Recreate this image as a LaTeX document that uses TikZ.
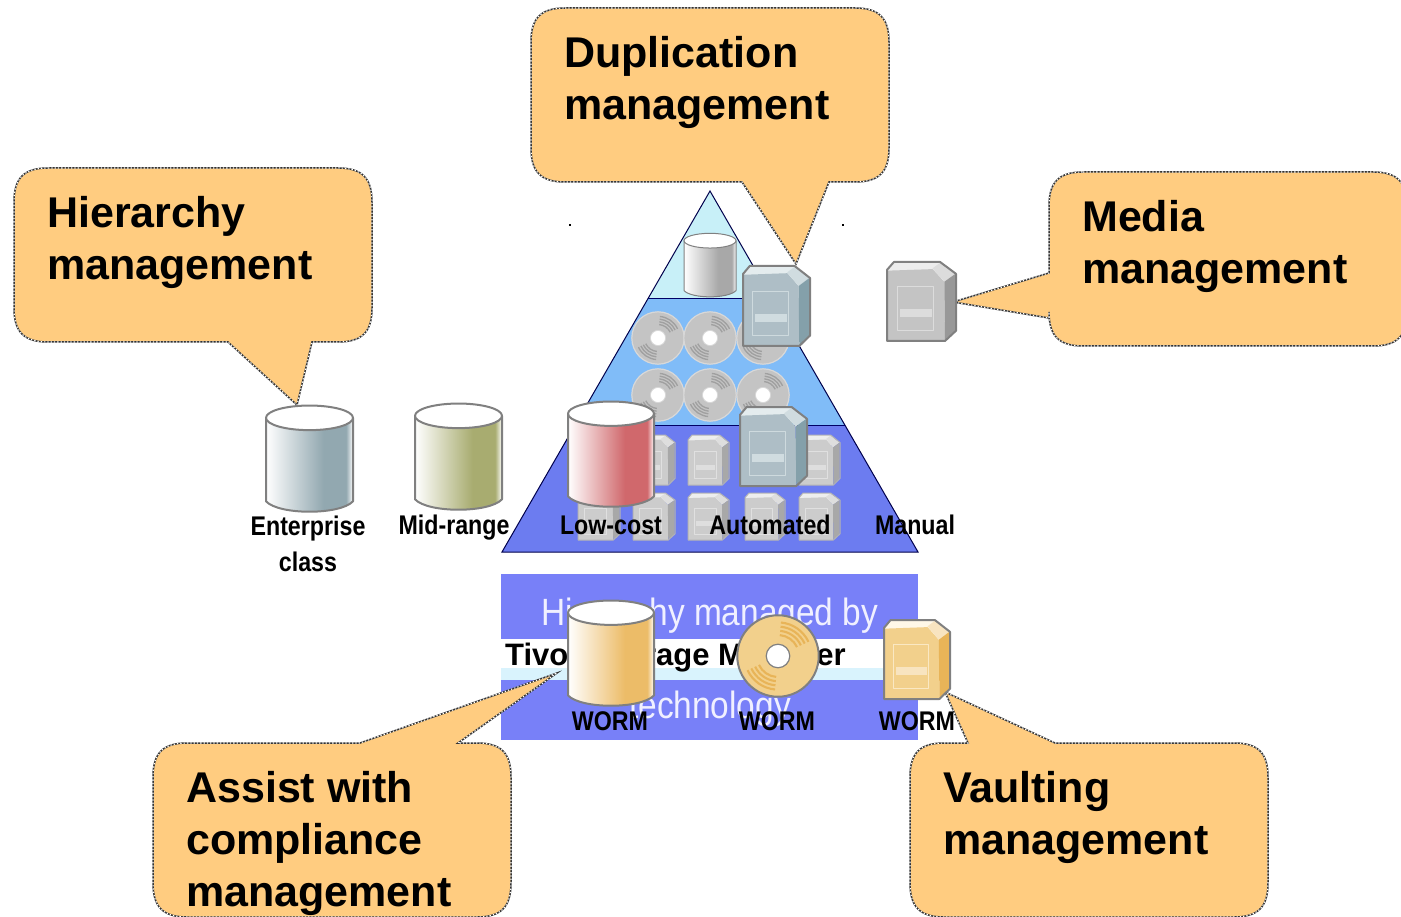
\documentclass[tikz,border=0pt]{standalone}
\usepackage{fontspec}
\setmainfont{Liberation Sans}
\newfontfamily\narrowbold[FakeStretch=0.86]{Liberation Sans}
\newfontfamily\narrowreg[FakeStretch=0.88]{Liberation Sans}
\definecolor{callfill}{HTML}{FFCC80}
\definecolor{pyrA}{HTML}{C8F0F8}
\definecolor{pyrB}{HTML}{80BCF8}
\definecolor{pyrC}{HTML}{6C7CF0}
\definecolor{panel}{HTML}{7880F8}
\definecolor{outl}{HTML}{808080}
\definecolor{bfront}{HTML}{AEBEC6}\definecolor{bside}{HTML}{84A0AA}\definecolor{btop}{HTML}{E4ECEE}\definecolor{bcorner}{HTML}{D0DCE0}\definecolor{bline}{HTML}{808080}
\definecolor{gfront}{HTML}{C4C4C4}\definecolor{gside}{HTML}{989898}\definecolor{gtop}{HTML}{ECECEC}\definecolor{gcorner}{HTML}{DCDCDC}\definecolor{gline}{HTML}{808080}
\definecolor{tfront}{HTML}{F2D08C}\definecolor{tside}{HTML}{E8B458}\definecolor{ttop}{HTML}{FFF8E8}\definecolor{tcorner}{HTML}{F8E4C0}\definecolor{tline}{HTML}{808080}
\definecolor{sfront}{HTML}{CCCCCC}\definecolor{sside}{HTML}{A8A8A8}\definecolor{stop}{HTML}{EEEEEE}\definecolor{scorner}{HTML}{DEDEDE}\definecolor{sline}{HTML}{B4B4B4}
\definecolor{dbody}{HTML}{C4C4C4}\definecolor{dline}{HTML}{D8D8D8}\definecolor{dring}{HTML}{A0A0A0}
\definecolor{midc}{HTML}{A8AC70}
\definecolor{entc}{HTML}{92A8B0}
\definecolor{lowc}{HTML}{D0686C}
\definecolor{tanc}{HTML}{ECBC68}
\definecolor{grayc}{HTML}{A8A8A8}
\pgfdeclarehorizontalshading{cylmid}{100bp}{color(0bp)=(white);color(25bp)=(white);color(58bp)=(midc);color(71bp)=(midc);color(75bp)=(white);color(100bp)=(white)}
\pgfdeclarehorizontalshading{cylent}{100bp}{color(0bp)=(white);color(25bp)=(white);color(58bp)=(entc);color(71bp)=(entc);color(75bp)=(white);color(100bp)=(white)}
\pgfdeclarehorizontalshading{cyllow}{100bp}{color(0bp)=(white);color(25bp)=(white);color(58bp)=(lowc);color(71bp)=(lowc);color(75bp)=(white);color(100bp)=(white)}
\pgfdeclarehorizontalshading{cyltan}{100bp}{color(0bp)=(white);color(25bp)=(white);color(58bp)=(tanc);color(71bp)=(tanc);color(75bp)=(white);color(100bp)=(white)}
\pgfdeclarehorizontalshading{cylgray}{100bp}{color(0bp)=(white);color(25bp)=(white);color(58bp)=(grayc);color(71bp)=(grayc);color(75bp)=(white);color(100bp)=(white)}
\tikzset{
  callout/.style={fill=callfill,draw=black!80,line width=1.5pt,
    postaction={draw=white,line width=1.1pt,dash pattern=on 1.3pt off 2pt}},
  calltext/.style={anchor=north west,inner sep=0pt,align=left,font=\fontsize{43}{52}\selectfont\bfseries},
  lab/.style={anchor=base,inner sep=0pt,font=\fontsize{27}{27}\selectfont\narrowbold\bfseries},
  paneltext/.style={anchor=base,inner sep=0pt,text=white!94!blue,font=\fontsize{38}{38}\selectfont\narrowreg},
  pyredge/.style={draw=black!70!blue,line width=1pt,line join=miter},
  speck/.style={fill=black,inner sep=0pt,minimum size=2pt,draw=none}
}
\newcommand{\CallBox}[8]{%
  \path[callout] ({#1+34},#2) #5 -- ({#3-34},#2)
    .. controls ({#3-10},#2) and (#3,{#2+10}) .. (#3,{#2+34})
    #6 -- (#3,{#4-34})
    .. controls (#3,{#4-10}) and ({#3-10},#4) .. ({#3-34},#4)
    #7 -- ({#1+34},#4)
    .. controls ({#1+10},#4) and (#1,{#4-10}) .. (#1,{#4-34})
    #8 -- (#1,{#2+34})
    .. controls (#1,{#2+10}) and ({#1+10},#2) .. ({#1+34},#2) -- cycle;}
% x y w h palette linewidth
\newcommand{\Cart}[6]{%
  \begin{scope}[shift={(#1,#2)},x=#3pt,y=-#4pt,line join=round]
    \fill[#5top] (0,.1) -- (.1,0) -- (.78,0) -- (.8,.2) -- (0,.2) -- cycle;
    \fill[#5front] (0,.11) -- (.66,.09) -- (.83,.25) -- (.84,1) -- (0,1) -- cycle;
    \fill[#5corner] (.66,.08) -- (.77,.01) -- (.99,.15) -- (.83,.25) -- cycle;
    \fill[#5side] (.83,.25) -- (.99,.15) -- (.99,.87) -- (.84,.99) -- cycle;
    \draw[#5top!60!#5front,line width=.5*#6] (.146,.316) rectangle (.68,.873);
    \fill[#5corner] (.185,.6) rectangle (.65,.70);
    \draw[#5line,line width=#6] (0,.1) -- (.1,0) -- (.77,0) -- (1,.15) -- (1,.87) -- (.84,1) -- (0,1) -- cycle;
  \end{scope}}
% x y w h shading linewidth
\newcommand{\Cyl}[6]{%
  \begin{scope}[shift={(#1,#2)},x=#3pt,y=-#4pt,line join=round]
    \path[shading=#5,draw=outl,line width=#6]
      (0,.12) -- (0,.9) .. controls (.15,1.03) and (.85,1.03) .. (1,.9) -- (1,.12) -- cycle;
    \path[fill=white,draw=outl,line width=#6] (.5,.12) ellipse [x radius=.5,y radius=.115];
  \end{scope}}
% cx cy r body linewidth line ring
\newcommand{\Disk}[7]{%
  \begin{scope}[shift={(#1,#2)},x=#3pt,y=#3pt]
    \draw[#6,line width=#5,fill=#4] (0,0) circle [radius=.97];
    \foreach \rr in {.5,.6,.7,.8} {
      \draw[#7,line width=.05*#3pt] (25:\rr) arc [start angle=25,end angle=85,radius=\rr];
      \draw[#7,line width=.05*#3pt] (205:\rr) arc [start angle=205,end angle=265,radius=\rr];
    }
    \draw[#6,line width=.6*#5,fill=white] (0,0) circle [radius=.28];
  \end{scope}}
\begin{document}
\begin{tikzpicture}[x=1pt,y=-1pt]
\clip (0,0) rectangle (1401,917);
\fill[white] (0,0) rectangle (1401,917);

% lower panel
\fill[panel] (501,574) rectangle (918,740);
\fill[white] (501,639) rectangle (918,668);
\fill[white!85!cyan] (501,668) rectangle (918,680);
\node[paneltext] (t1) at (710,625) {Hierarchy managed by};
\begin{scope}
  \clip (501,639) rectangle (918,680);
  \node[anchor=base west,inner sep=0pt,font=\fontsize{31}{31}\selectfont\bfseries] (t2) at (505,665) {Tivoli Storage Manager};
\end{scope}
\node[paneltext] (t3) at (710,718) {technology};

% pyramid
\coordinate (apex) at (710,191);
\coordinate (bl) at (502,552);
\coordinate (br) at (918,552);
\fill[pyrC] (bl) -- (575,425) -- (845,425) -- (br) -- cycle;
\fill[pyrB] (575,425) -- (648,299) -- (772,299) -- (845,425) -- cycle;
\fill[pyrA] (648,299) -- (apex) -- (772,299) -- cycle;
\draw[pyredge] (apex) -- (bl) -- (br) -- cycle;
\draw[black!60!blue,line width=1pt] (648,299) -- (772,299);
\draw[black!60!blue,line width=1pt] (575,425) -- (845,425);
\node[speck] (s1) at (570,225) {};
\node[speck] (s2) at (843,225) {};

% disks
\Disk{658}{338}{27}{dbody}{1.2pt}{dline}{dring}
\Disk{710}{338}{27}{dbody}{1.2pt}{dline}{dring}
\Disk{763}{338}{27}{dbody}{1.2pt}{dline}{dring}
\Disk{658}{395}{27}{dbody}{1.2pt}{dline}{dring}
\Disk{710}{395}{27}{dbody}{1.2pt}{dline}{dring}
\Disk{763}{395}{27}{dbody}{1.2pt}{dline}{dring}

% small cartridges
\Cart{633}{435}{42}{50}{s}{1pt}
\Cart{688}{435}{41}{50}{s}{1pt}
\Cart{799}{435}{41}{50}{s}{1pt}
\Cart{578}{493}{42}{47}{s}{1pt}
\Cart{633}{493}{42}{47}{s}{1pt}
\Cart{688}{493}{41}{47}{s}{1pt}
\Cart{745}{493}{40}{47}{s}{1pt}
\Cart{799}{493}{41}{47}{s}{1pt}

% callouts
\CallBox{14}{168}{372}{342}{}{}{-- (312,342) -- (297,405) -- (228,342)}{}
\CallBox{531}{8}{889}{182}{}{}{-- (829,182) -- (796,264) -- (742,182)}{}
\CallBox{1049}{172}{1407}{346}{}{}{}{-- (1049,318) -- (953,302) -- (1049,273)}
\CallBox{153}{743}{511}{917}{-- (360,743) -- (557,673) -- (458,743)}{}{}{}
\CallBox{910}{743}{1268}{917}{-- (968,743) -- (945,692) -- (1055,743)}{}{}{}
\node[calltext] (hier) at (47,196) {Hierarchy\\management};
\node[calltext] (dupl) at (564,36) {Duplication\\management};
\node[calltext] (media) at (1082,200) {Media\\management};
\node[calltext] (assist) at (186,771) {Assist with\\compliance\\management};
\node[calltext] (vault) at (943,771) {Vaulting\\management};

% cylinders
\Cyl{684}{233}{52}{64}{cylgray}{1pt}
\Cyl{266}{405}{87}{107}{cylent}{2pt}
\Cyl{415}{403}{87}{107}{cylmid}{2pt}
\Cyl{568}{401}{86}{106}{cyllow}{2pt}
\Cyl{568}{600}{86}{106}{cyltan}{2pt}

% large cartridges
\Cart{743}{266}{67}{80}{b}{2pt}
\Cart{740}{407}{67}{79}{b}{2pt}
\Cart{887}{262}{69}{79}{g}{2pt}
\Cart{884}{620}{66}{79}{t}{2pt}

% WORM disk
\Disk{778}{656}{42}{tfront}{2pt}{outl}{tside}

% labels
\node[lab] (l1) at (308,535) {Enterprise};
\node[lab] (l1b) at (308,571) {class};
\node[lab] (l2) at (454,534) {Mid-range};
\node[lab] (l3) at (611,534) {Low-cost};
\node[lab] (l4) at (770,534) {Automated};
\node[lab] (l5) at (915,534) {Manual};
\node[lab] (w1) at (610,730) {WORM};
\node[lab] (w2) at (777,730) {WORM};
\node[lab] (w3) at (917,730) {WORM};
\end{tikzpicture}
\end{document}
